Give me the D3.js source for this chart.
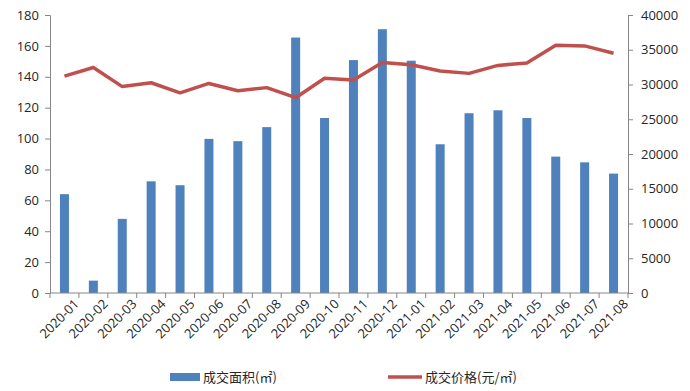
<!DOCTYPE html>
<html>
<head>
<meta charset="utf-8">
<script src="https://cdn.jsdelivr.net/npm/d3@7"></script>
<style>
  body { margin: 0; background: #fff; }
  text { font-family: "Open Sans", "DejaVu Sans", sans-serif; }
</style>
</head>
<body>
<div id="chart"></div>
<script>
const months = ['2020-01','2020-02','2020-03','2020-04','2020-05','2020-06','2020-07','2020-08','2020-09','2020-10',
  '2020-11','2020-12','2021-01','2021-02','2021-03','2021-04','2021-05','2021-06','2021-07','2021-08']
const area = [64, 8, 48, 72.3, 69.8, 99.8, 98.3, 107.4, 165.4, 113.3, 150.8, 170.8, 150.4, 96.3, 116.4, 118.3, 113.3, 88.3, 84.6, 77.3]
const price = [31200, 32450, 29700, 30250, 28800, 30150, 29100, 29550, 28100, 30900, 30650, 33150, 32850, 31950, 31600, 32750, 33100, 35650, 35550, 34500]
const leftTicks = [0, 20, 40, 60, 80, 100, 120, 140, 160, 180]
const rightTicks = [0, 5000, 10000, 15000, 20000, 25000, 30000, 35000, 40000]
const areaLabel = '成交面积(㎡)'
const priceLabel = '成交价格(元/㎡)'

const width = 690, height = 391
const margin = { left: 50, right: 62, top: 15, bottom: 98 }
const axisColor = '#868686'

const svg = d3.select('#chart').append('svg')
  .attr('width', width)
  .attr('height', height)

const x = d3.scaleBand().domain(months).range([margin.left, width - margin.right])
const yL = d3.scaleLinear().domain([0, 180]).range([height - margin.bottom, margin.top])
const yR = d3.scaleLinear().domain([0, 40000]).range([height - margin.bottom, margin.top])

// bars
svg.append('g').selectAll('rect')
  .data(area)
  .enter()
  .append('rect')
  .attr('x', (d, i) => x(months[i]) + x.bandwidth() / 2 - 4.5)
  .attr('width', 9)
  .attr('y', d => yL(d))
  .attr('height', d => yL(0) - yL(d))
  .attr('fill', '#4f81bd')

// price line
const line = d3.line()
  .x((d, i) => x(months[i]) + x.bandwidth() / 2)
  .y(d => yR(d))
svg.append('path')
  .datum(price)
  .attr('d', line)
  .attr('fill', 'none')
  .attr('stroke', '#c0504d')
  .attr('stroke-width', 3.5)
  .attr('stroke-linejoin', 'round')

// left axis
const gl = svg.append('g')
  .attr('transform', `translate(${margin.left},0)`)
  .call(d3.axisLeft(yL).tickValues(leftTicks).tickSize(5).tickPadding(6))
// right axis
const gr = svg.append('g')
  .attr('transform', `translate(${width - margin.right},0)`)
  .call(d3.axisRight(yR).tickValues(rightTicks).tickFormat(d3.format('d')).tickSize(5).tickPadding(8))
// bottom axis with ticks between categories
const gb = svg.append('g')
  .attr('transform', `translate(0,${yL(0)})`)
  .call(d3.axisBottom(x).tickSize(0).tickPadding(10))

gb.selectAll('.tick text')
  .attr('text-anchor', 'end')
  .attr('dx', '0.2em')
  .attr('dy', '0.7em')
  .attr('transform', 'rotate(-45)')

const bounds = months.map(m => x(m)).concat([x.range()[1]])
gb.selectAll('.sep')
  .data(bounds)
  .enter()
  .append('line')
  .attr('class', 'sep')
  .attr('x1', d => d).attr('x2', d => d)
  .attr('y1', 0).attr('y2', 5)

;[gl, gr, gb].forEach(g => {
  g.selectAll('path.domain').attr('stroke', axisColor)
  g.selectAll('line').attr('stroke', axisColor)
  g.selectAll('text')
    .attr('fill', '#262626')
    .style('font-size', '13px')
})
gb.select('path.domain').attr('d', `M${margin.left},0H${width - margin.right}`)

// legend
const lg = svg.append('g').attr('transform', 'translate(0,377)')
lg.append('rect')
  .attr('x', 170).attr('y', -4)
  .attr('width', 30).attr('height', 8)
  .attr('fill', '#4f81bd')
lg.append('text')
  .attr('x', 203).attr('y', 0).attr('dy', '0.35em')
  .style('font-family', '"Noto Sans CJK SC", sans-serif')
  .style('font-size', '13px')
  .attr('fill', '#262626')
  .text(areaLabel)
lg.append('line')
  .attr('x1', 388).attr('x2', 422)
  .attr('y1', 0).attr('y2', 0)
  .attr('stroke', '#c0504d')
  .attr('stroke-width', 3.5)
lg.append('text')
  .attr('x', 425).attr('y', 0).attr('dy', '0.35em')
  .style('font-family', '"Noto Sans CJK SC", sans-serif')
  .style('font-size', '13px')
  .attr('fill', '#262626')
  .text(priceLabel)
</script>
</body>
</html>
